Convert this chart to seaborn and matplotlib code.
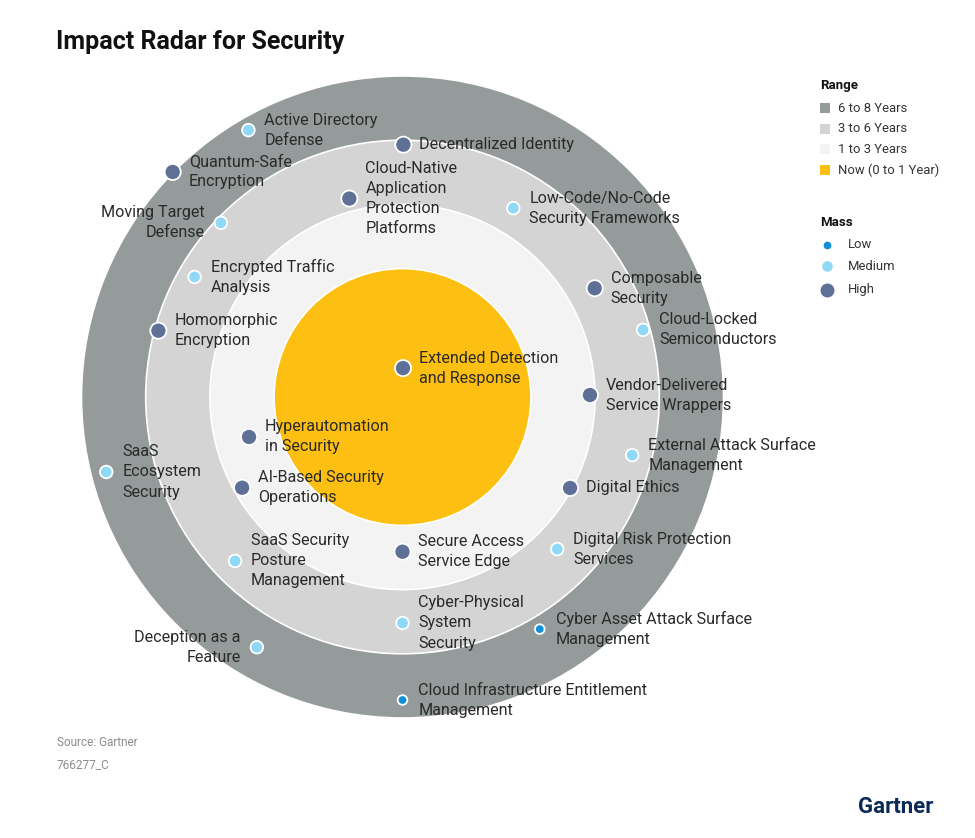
import numpy as np
import pandas as pd
import matplotlib.pyplot as plt
import seaborn as sns
from matplotlib.patches import Circle, Rectangle
from matplotlib.lines import Line2D

# values read off the radar: angle in degrees (0 = right, counter-clockwise),
# distance from the centre in ring units (ring edges at 2, 3, 4, 5)
techs = [
    "Active Directory\nDefense", "Decentralized Identity", "Quantum-Safe\nEncryption",
    "Cloud-Native\nApplication\nProtection\nPlatforms", "Moving Target\nDefense",
    "Low-Code/No-Code\nSecurity Frameworks", "Encrypted Traffic\nAnalysis",
    "Composable\nSecurity", "Cloud-Locked\nSemiconductors", "Homomorphic\nEncryption",
    "Extended Detection\nand Response", "Vendor-Delivered\nService Wrappers",
    "Hyperautomation\nin Security", "External Attack Surface\nManagement",
    "SaaS\nEcosystem\nSecurity", "AI-Based Security\nOperations", "Digital Ethics",
    "SaaS Security\nPosture\nManagement", "Secure Access\nService Edge",
    "Digital Risk Protection\nServices", "Cyber-Physical\nSystem\nSecurity",
    "Cyber Asset Attack Surface\nManagement", "Deception as a\nFeature",
    "Cloud Infrastructure Entitlement\nManagement",
]
angles = [120.0, 89.8, 135.6, 105.0, 136.2, 59.6, 150.0, 29.5, 15.6, 164.8,
          89.0, 0.6, 194.6, 345.8, 194.2, 209.5, 331.5, 224.4, 270.0, 315.5,
          270.0, 300.6, 239.8, 270.0]
dists = [4.80, 3.93, 5.01, 3.20, 3.92, 3.41, 3.74, 3.44, 3.89, 3.94,
         0.45, 2.92, 2.47, 3.69, 4.76, 2.87, 2.97, 3.65, 2.41, 3.38,
         3.52, 4.20, 4.51, 4.72]
mass = ["Medium", "High", "High", "High", "Medium", "Medium", "Medium", "High",
        "Medium", "High", "High", "High", "High", "Medium", "Medium", "High",
        "High", "Medium", "High", "Medium", "Medium", "Low", "Medium", "Low"]
label_side = ["r", "r", "r", "r", "l", "r", "r", "r", "r", "r", "r", "r",
              "r", "r", "r", "r", "r", "r", "r", "r", "r", "r", "l", "r"]

range_labels = ["6 to 8 Years", "3 to 6 Years", "1 to 3 Years", "Now (0 to 1 Year)"]
range_radius = [5, 4, 3, 2]
range_colors = ["#959b9a", "#d4d4d4", "#f3f3f3", "#fdbf12"]

mass_levels = ["Low", "Medium", "High"]
mass_colors = {"Low": "#1090d8", "Medium": "#8fd9f6", "High": "#5f7097"}
mass_sizes = {"Low": 48, "Medium": 82, "High": 135}

sns.set_style("white")
plt.rcParams["font.family"] = ["Roboto", "DejaVu Sans"]

W, H = 975, 838
UNIT = 64.2              # pixels per ring unit
CX, CY = 402.5, 397      # radar centre in pixels


def fpx(x, y):
    # pixel position -> figure fraction
    return x / W, 1 - y / H


fig = plt.figure(figsize=(W / 100, H / 100), dpi=100)
ax = fig.add_axes([0, 0, 1, 1])

# rings
for r, c in zip(range_radius, range_colors):
    ax.add_patch(Circle((0, 0), r, facecolor=c, edgecolor="white", lw=1.2, zorder=1))

df = pd.DataFrame({"tech": techs, "angle": angles, "dist": dists, "mass": mass, "side": label_side})
df["x"] = df["dist"] * np.cos(np.radians(df["angle"]))
df["y"] = df["dist"] * np.sin(np.radians(df["angle"]))

sns.scatterplot(data=df, x="x", y="y", hue="mass", size="mass", palette=mass_colors,
                sizes=mass_sizes, edgecolor="white", linewidth=1.3, legend=False,
                ax=ax, zorder=3)
ax.set_xlim(-CX / UNIT, (W - CX) / UNIT)
ax.set_ylim(-(H - CY) / UNIT, CY / UNIT)
ax.axis("off")

off = 16 / UNIT
for _, row in df.iterrows():
    right = row["side"] == "r"
    ax.text(row["x"] + (off if right else -off), row["y"], row["tech"],
            ha="left" if right else "right", va="center",
            fontsize=11.6, color="#2a2a2a", linespacing=1.42, zorder=4)

# title
fig.text(*fpx(56, 42), "Impact Radar for Security", fontsize=18, fontweight="bold",
         color="#111111", ha="left", va="center")

# range legend
fig.text(*fpx(820, 86), "Range", fontsize=9.5, fontweight="bold", color="#111111",
         ha="left", va="center")
for i, (lab, c) in enumerate(zip(range_labels, range_colors)):
    yy = 108 + i * 20.7
    x0, y0 = fpx(820, yy + 5)
    fig.add_artist(Rectangle((x0, y0), 10 / W, 10 / H, facecolor=c, edgecolor="none",
                             transform=fig.transFigure))
    fig.text(*fpx(838, yy), lab, fontsize=9.4, color="#333333", ha="left", va="center")

# mass legend
fig.text(*fpx(820, 222), "Mass", fontsize=9.5, fontweight="bold", color="#111111",
         ha="left", va="center")
for lab, yy in zip(mass_levels, [245, 266, 290]):
    fig.add_artist(Line2D([827 / W], [1 - yy / H], marker="o", linestyle="none",
                          markersize=np.sqrt(mass_sizes[lab]) * 0.95,
                          markerfacecolor=mass_colors[lab], markeredgecolor="white",
                          transform=fig.transFigure))
    fig.text(*fpx(848, yy), lab, fontsize=9.4, color="#333333", ha="left", va="center")

# footer
fig.text(*fpx(57, 742), "Source: Gartner", fontsize=8.5, color="#8c8c8c", ha="left", va="center")
fig.text(*fpx(57, 765), "766277_C", fontsize=8.5, color="#8c8c8c", ha="left", va="center")
fig.text(*fpx(933, 807), "Gartner", fontsize=16, fontweight="bold", color="#0b2a57",
         ha="right", va="center")

fig.savefig("out.png", dpi=100)
